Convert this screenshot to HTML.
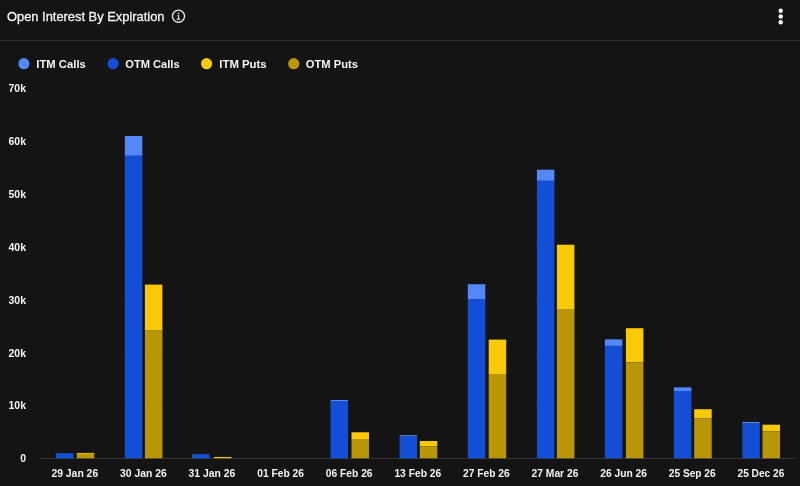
<!DOCTYPE html>
<html><head><meta charset="utf-8"><title>Open Interest By Expiration</title>
<style>
html,body{margin:0;padding:0;background:#141414;}
body{width:800px;height:486px;overflow:hidden;font-family:"Liberation Sans",sans-serif;}
svg{display:block}
text{font-family:"Liberation Sans",sans-serif;}
.t{font-size:13.5px;fill:#f4f4f4;stroke:#f4f4f4;stroke-width:0.3px;}
.lg{font-size:11.5px;font-weight:bold;fill:#f5f5f5;}
.ax{font-size:10.5px;font-weight:bold;fill:#f4f4f4;}
</style></head><body>
<svg width="800" height="486" viewBox="0 0 800 486">
<rect width="800" height="486" fill="#141414"/>
<text class="t" x="7" y="20.6" textLength="157.5" lengthAdjust="spacingAndGlyphs">Open Interest By Expiration</text>
<g fill="none" stroke="#e8e8e8" stroke-width="1.3"><circle cx="178.5" cy="16.2" r="6.05"/></g>
<g fill="#d0d0d0"><rect x="177.8" y="12.6" width="1.4" height="1.4"/><rect x="177.9" y="14.8" width="1.3" height="4.4"/><rect x="176.7" y="18.7" width="3.6" height="1.2"/><rect x="177.2" y="14.8" width="1.2" height="0.9"/></g>
<g fill="#ffffff"><circle cx="780.7" cy="10.7" r="2.2"/><circle cx="780.7" cy="16.45" r="2.2"/><circle cx="780.7" cy="22.2" r="2.2"/></g>
<rect x="0" y="40" width="800" height="1" fill="#2e2e2e"/>
<circle cx="23.9" cy="63.7" r="5.6" fill="#5387fa"/><text class="lg" x="36.3" y="67.6" textLength="49.5" lengthAdjust="spacingAndGlyphs">ITM Calls</text>
<circle cx="113.1" cy="63.7" r="5.6" fill="#134fd6"/><text class="lg" x="125.3" y="67.6" textLength="54.3" lengthAdjust="spacingAndGlyphs">OTM Calls</text>
<circle cx="206.6" cy="63.7" r="5.6" fill="#fbc905"/><text class="lg" x="219.3" y="67.6" textLength="47.3" lengthAdjust="spacingAndGlyphs">ITM Puts</text>
<circle cx="293.75" cy="63.7" r="5.6" fill="#b99606"/><text class="lg" x="305.8" y="67.6" textLength="52.2" lengthAdjust="spacingAndGlyphs">OTM Puts</text>
<text class="ax" x="26" y="462.45" text-anchor="end">0</text>
<rect x="40.2" y="404.9" width="755.4" height="1" fill="#171717"/>
<text class="ax" x="26" y="409.48" text-anchor="end">10k</text>
<rect x="40.2" y="352.0" width="755.4" height="1" fill="#171717"/>
<text class="ax" x="26" y="356.51" text-anchor="end">20k</text>
<rect x="40.2" y="299.0" width="755.4" height="1" fill="#171717"/>
<text class="ax" x="26" y="303.54" text-anchor="end">30k</text>
<rect x="40.2" y="246.1" width="755.4" height="1" fill="#171717"/>
<text class="ax" x="26" y="250.57" text-anchor="end">40k</text>
<rect x="40.2" y="193.1" width="755.4" height="1" fill="#171717"/>
<text class="ax" x="26" y="197.60" text-anchor="end">50k</text>
<rect x="40.2" y="140.2" width="755.4" height="1" fill="#171717"/>
<text class="ax" x="26" y="144.63" text-anchor="end">60k</text>
<rect x="40.2" y="87.2" width="755.4" height="1" fill="#171717"/>
<text class="ax" x="26" y="91.66" text-anchor="end">70k</text>
<rect x="40.2" y="458.0" width="755.4" height="1" fill="#353535"/>
<text class="ax" x="74.8" y="476.9" text-anchor="middle" textLength="46.8" lengthAdjust="spacingAndGlyphs">29 Jan 26</text>
<rect x="55.9" y="453.1" width="17.5" height="0.30" fill="#5387fa"/><rect x="55.9" y="453.4" width="17.5" height="4.90" fill="#134fd6"/><rect x="76.8" y="452.9" width="17.5" height="1.00" fill="#fbc905"/><rect x="76.8" y="453.9" width="17.5" height="4.40" fill="#b99606"/>
<text class="ax" x="143.4" y="476.9" text-anchor="middle" textLength="46.8" lengthAdjust="spacingAndGlyphs">30 Jan 26</text>
<rect x="124.8" y="136.0" width="17.5" height="19.80" fill="#5387fa"/><rect x="124.8" y="155.8" width="17.5" height="302.50" fill="#134fd6"/><rect x="144.9" y="284.6" width="17.5" height="46.00" fill="#fbc905"/><rect x="144.9" y="330.6" width="17.5" height="127.70" fill="#b99606"/>
<text class="ax" x="212.0" y="476.9" text-anchor="middle" textLength="46.8" lengthAdjust="spacingAndGlyphs">31 Jan 26</text>
<rect x="192.0" y="454.1" width="17.5" height="0.30" fill="#5387fa"/><rect x="192.0" y="454.4" width="17.5" height="3.90" fill="#134fd6"/><rect x="214.0" y="457.0" width="17.5" height="1.00" fill="#fbc905"/><rect x="214.0" y="458.0" width="17.5" height="0.30" fill="#b99606"/>
<text class="ax" x="280.6" y="476.9" text-anchor="middle" textLength="46.8" lengthAdjust="spacingAndGlyphs">01 Feb 26</text>
<text class="ax" x="349.2" y="476.9" text-anchor="middle" textLength="46.8" lengthAdjust="spacingAndGlyphs">06 Feb 26</text>
<rect x="330.5" y="400.0" width="17.5" height="1.00" fill="#5387fa"/><rect x="330.5" y="401.0" width="17.5" height="57.30" fill="#134fd6"/><rect x="351.5" y="432.3" width="17.5" height="6.70" fill="#fbc905"/><rect x="351.5" y="439.0" width="17.5" height="19.30" fill="#b99606"/>
<text class="ax" x="417.8" y="476.9" text-anchor="middle" textLength="46.8" lengthAdjust="spacingAndGlyphs">13 Feb 26</text>
<rect x="399.6" y="435.2" width="17.5" height="1.30" fill="#5387fa"/><rect x="399.6" y="436.5" width="17.5" height="21.80" fill="#134fd6"/><rect x="419.8" y="441.0" width="17.5" height="5.50" fill="#fbc905"/><rect x="419.8" y="446.5" width="17.5" height="11.80" fill="#b99606"/>
<text class="ax" x="486.4" y="476.9" text-anchor="middle" textLength="46.8" lengthAdjust="spacingAndGlyphs">27 Feb 26</text>
<rect x="467.8" y="284.2" width="17.5" height="14.80" fill="#5387fa"/><rect x="467.8" y="299.0" width="17.5" height="159.30" fill="#134fd6"/><rect x="488.7" y="339.6" width="17.5" height="34.40" fill="#fbc905"/><rect x="488.7" y="374.0" width="17.5" height="84.30" fill="#b99606"/>
<text class="ax" x="555.0" y="476.9" text-anchor="middle" textLength="46.8" lengthAdjust="spacingAndGlyphs">27 Mar 26</text>
<rect x="536.9" y="169.7" width="17.5" height="11.10" fill="#5387fa"/><rect x="536.9" y="180.8" width="17.5" height="277.50" fill="#134fd6"/><rect x="556.9" y="244.7" width="17.5" height="65.00" fill="#fbc905"/><rect x="556.9" y="309.7" width="17.5" height="148.60" fill="#b99606"/>
<text class="ax" x="623.6" y="476.9" text-anchor="middle" textLength="46.8" lengthAdjust="spacingAndGlyphs">26 Jun 26</text>
<rect x="604.9" y="339.4" width="17.5" height="6.50" fill="#5387fa"/><rect x="604.9" y="345.9" width="17.5" height="112.40" fill="#134fd6"/><rect x="625.9" y="328.2" width="17.5" height="34.10" fill="#fbc905"/><rect x="625.9" y="362.3" width="17.5" height="96.00" fill="#b99606"/>
<text class="ax" x="692.2" y="476.9" text-anchor="middle" textLength="46.8" lengthAdjust="spacingAndGlyphs">25 Sep 26</text>
<rect x="673.9" y="387.3" width="17.5" height="3.70" fill="#5387fa"/><rect x="673.9" y="391.0" width="17.5" height="67.30" fill="#134fd6"/><rect x="694.2" y="409.2" width="17.5" height="9.00" fill="#fbc905"/><rect x="694.2" y="418.2" width="17.5" height="40.10" fill="#b99606"/>
<text class="ax" x="760.9" y="476.9" text-anchor="middle" textLength="46.8" lengthAdjust="spacingAndGlyphs">25 Dec 26</text>
<rect x="742.3" y="422.0" width="17.5" height="1.50" fill="#5387fa"/><rect x="742.3" y="423.5" width="17.5" height="34.80" fill="#134fd6"/><rect x="762.5" y="424.7" width="17.5" height="6.50" fill="#fbc905"/><rect x="762.5" y="431.2" width="17.5" height="27.10" fill="#b99606"/>
</svg></body></html>
